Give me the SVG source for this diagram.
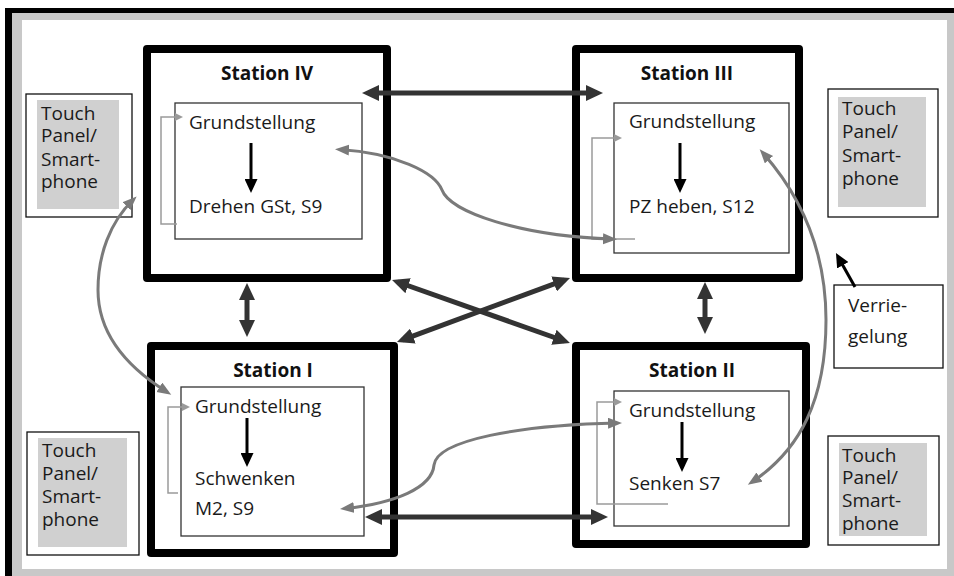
<svg xmlns="http://www.w3.org/2000/svg" width="954" height="576" viewBox="0 0 954 576">
<style>
text{font-family:"Open Sans","Noto Sans","Liberation Sans",sans-serif;font-size:19px;fill:#1a1a1a}
.title{font-weight:bold;text-anchor:middle;fill:#111}
.station{fill:#fff;stroke:#000;stroke-width:8;stroke-linejoin:round}
.inner{fill:#fff;stroke:#333;stroke-width:1.3}
.panel{fill:#fff;stroke:#111;stroke-width:1.3}
.panelfill{fill:#d0d0d0}
.thick{fill:none;stroke:#333;stroke-width:5;marker-start:url(#mThick);marker-end:url(#mThick)}
.down{fill:none;stroke:#000;stroke-width:3;marker-end:url(#mBlack)}
.curve{fill:none;stroke:#7a7a7a;stroke-width:3;marker-start:url(#mGray);marker-end:url(#mGray)}
.loop{fill:none;stroke:#9a9a9a;stroke-width:1.5;marker-end:url(#mThin)}
</style>
<defs>
<marker id="mThick" markerUnits="userSpaceOnUse" markerWidth="18" markerHeight="16" refX="11" refY="8" orient="auto-start-reverse"><path d="M0,0 L17,8 L0,16 z" fill="#333"/></marker>
<marker id="mBlack" markerUnits="userSpaceOnUse" markerWidth="15" markerHeight="13" refX="9" refY="6.5" orient="auto"><path d="M0,0 L14,6.5 L0,13 z" fill="#000"/></marker>
<marker id="mGray" markerUnits="userSpaceOnUse" markerWidth="15" markerHeight="12" refX="9" refY="5.5" orient="auto-start-reverse"><path d="M0,0 L14,5.5 L0,11 z" fill="#7a7a7a"/></marker>
<marker id="mThin" markerUnits="userSpaceOnUse" markerWidth="9" markerHeight="9" refX="5" refY="4" orient="auto"><path d="M0,0 L8,4 L0,8 z" fill="#9a9a9a"/></marker>
</defs>
<rect x="0" y="0" width="954" height="576" fill="#fff"/>
<rect x="5" y="8" width="949" height="568" fill="#000"/>
<rect x="12" y="13" width="942" height="563" fill="#c8c8c8"/>
<rect x="22" y="20" width="925" height="549" fill="#fff"/>

<g id="panel-top-left">
<rect class="panel" x="26" y="94" width="106" height="123"/>
<rect class="panelfill" x="37" y="100" width="82" height="109"/>
<text x="41" y="120">Touch</text><text x="41" y="142">Panel/</text><text x="41" y="166">Smart-</text><text x="41" y="188">phone</text>
</g>
<g id="panel-top-right">
<rect class="panel" x="828" y="89" width="110" height="128"/>
<rect class="panelfill" x="838" y="97" width="88" height="110"/>
<text x="842" y="115">Touch</text><text x="842" y="138">Panel/</text><text x="842" y="162">Smart-</text><text x="842" y="185">phone</text>
</g>
<g id="panel-bottom-left">
<rect class="panel" x="27" y="432" width="112" height="123"/>
<rect class="panelfill" x="38" y="438" width="89" height="109"/>
<text x="42" y="457">Touch</text><text x="42" y="480">Panel/</text><text x="42" y="503">Smart-</text><text x="42" y="526">phone</text>
</g>
<g id="panel-bottom-right">
<rect class="panel" x="828" y="436" width="111" height="109"/>
<rect class="panelfill" x="839" y="443" width="88" height="93"/>
<text x="842" y="462">Touch</text><text x="842" y="484">Panel/</text><text x="842" y="507">Smart-</text><text x="842" y="530">phone</text>
</g>
<g id="verriegelung">
<rect class="panel" x="834" y="285" width="109" height="83"/>
<text x="848" y="312">Verrie-</text><text x="848" y="343">gelung</text>
</g>

<g id="station-4">
<rect class="station" x="147" y="49" width="240" height="229"/>
<text class="title" x="267" y="80">Station IV</text>
<rect class="inner" x="175" y="103" width="187" height="136"/>
<text x="189" y="129">Grundstellung</text>
<text x="189" y="213">Drehen GSt, S9</text>
</g>
<g id="station-3">
<rect class="station" x="576" y="49" width="223" height="229"/>
<text class="title" x="687" y="80">Station III</text>
<rect class="inner" x="614" y="103" width="175" height="150"/>
<text x="629" y="128">Grundstellung</text>
<text x="629" y="213">PZ heben, S12</text>
</g>
<g id="station-1">
<rect class="station" x="151" y="346" width="243" height="207"/>
<text class="title" x="273" y="377">Station I</text>
<rect class="inner" x="181" y="387" width="183" height="149"/>
<text x="195" y="413">Grundstellung</text>
<text x="195" y="485">Schwenken</text>
<text x="195" y="515">M2, S9</text>
</g>
<g id="station-2">
<rect class="station" x="576" y="346" width="230" height="198"/>
<text class="title" x="692" y="377">Station II</text>
<rect class="inner" x="614" y="391" width="175" height="135"/>
<text x="629" y="417">Grundstellung</text>
<text x="629" y="490">Senken S7</text>
</g>

<g id="connectors">
<path class="thick" d="M368,93 H597"/>
<path class="thick" d="M247,289 V331"/>
<path class="thick" d="M705,288 V328"/>
<path class="thick" d="M397.7,282 L564.3,341"/>
<path class="thick" d="M564.4,280.1 L402.6,339.9"/>
<path class="thick" d="M371,517 H602"/>

<path class="down" d="M251,143 V188"/>
<path class="down" d="M680,143 V188"/>
<path class="down" d="M247,418 V462"/>
<path class="down" d="M682,422 V467"/>
<path class="down" d="M855,287 L838.4,257.4"/>

<path class="loop" d="M177,224 H161 V117 H180"/>
<path class="loop" d="M635,239 H592 V138 H619"/>
<path class="loop" d="M178,493 H168 V407 H187"/>
<path class="loop" d="M668,504 H597 V402 H619"/>

<path class="curve" d="M340,149.5 C395,153 435,172 442,190 C450,212 520,236 612,239"/>
<path class="curve" d="M345,508.5 C395,503 432,488 434,465 C437,440 520,425 617,423"/>
<path class="curve" d="M763,153 C800,195 826,250 826,320 C826,400 800,450 752,482"/>
<path class="curve" d="M133,200 C110,222 98,255 98,290 C98,340 135,372 167,392"/>
</g>
</svg>
